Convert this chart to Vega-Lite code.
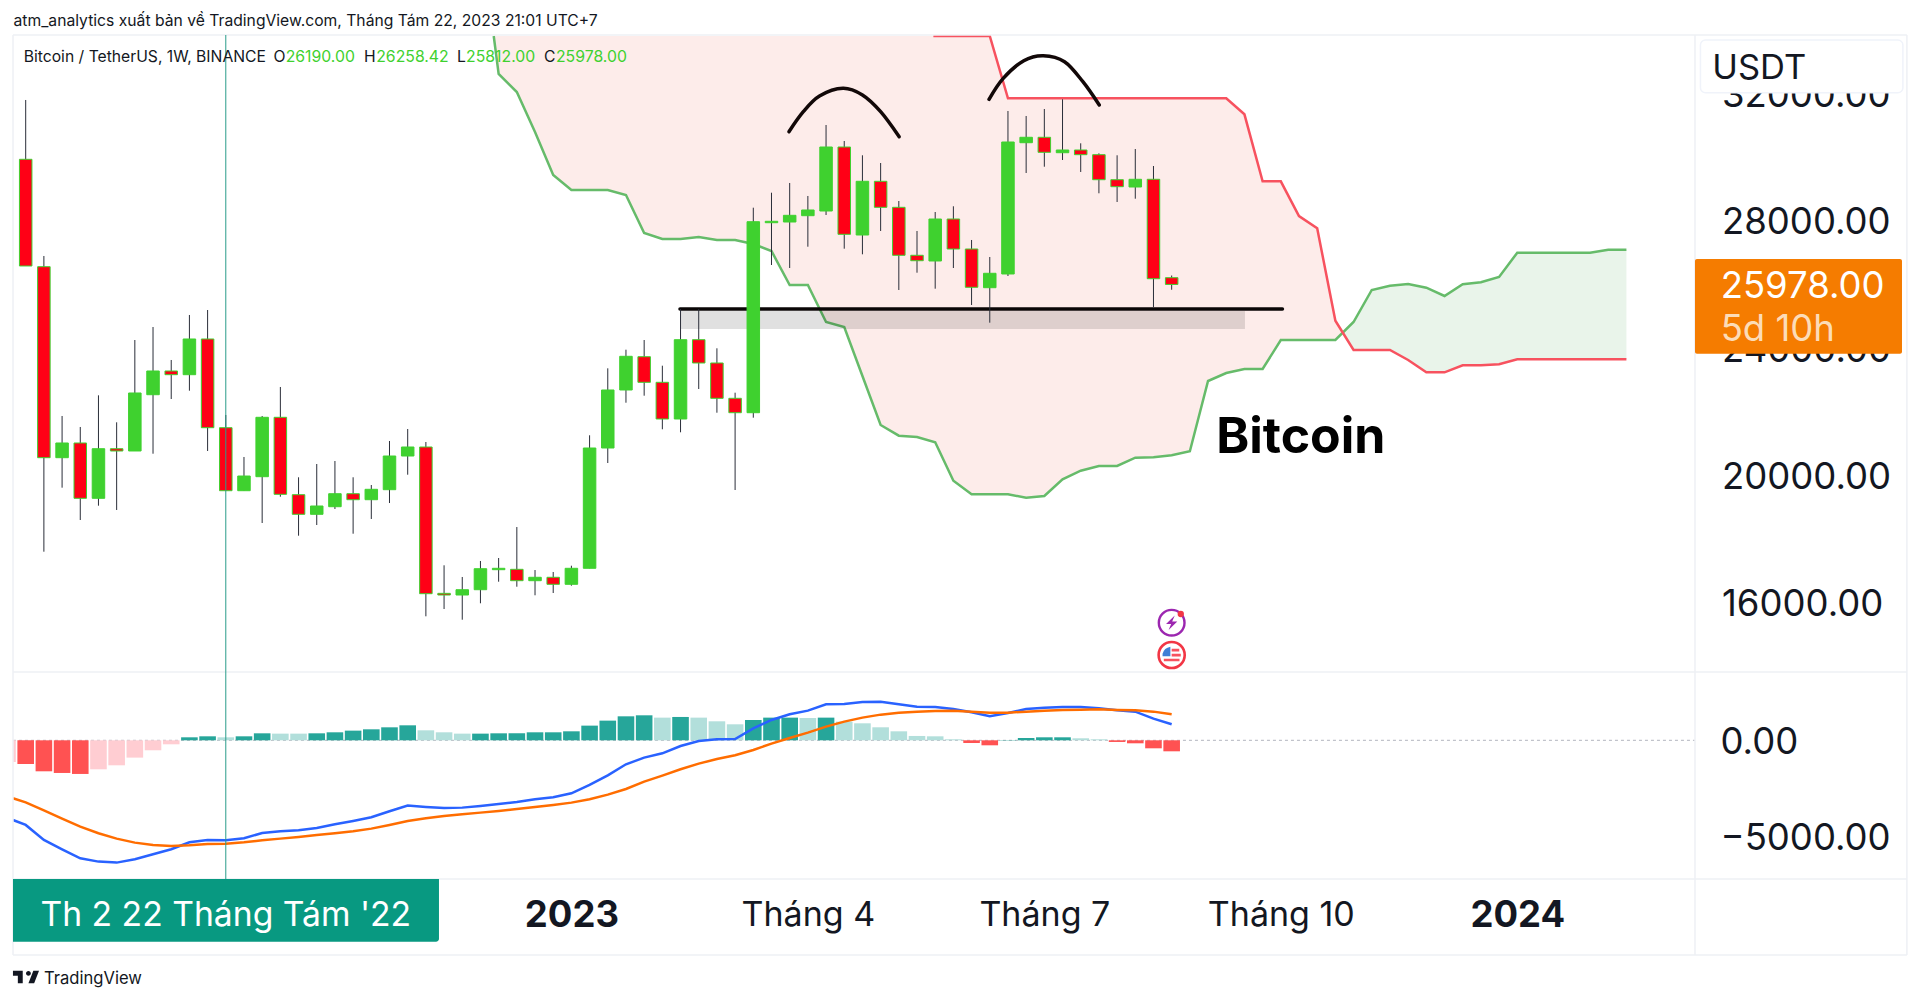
{"$schema":"https://vega.github.io/schema/vega-lite/v6.json","width":1920,"height":1001,"autosize":"none","padding":0,"background":"#ffffff","config":{"view":{"stroke":null},"text":{"font":"Inter"},"axis":{"labelFont":"Inter","grid":false,"ticks":false,"domain":false,"title":null}},
"datasets":{
"candles":[
{"w":0,"date":"2022-06-06","o":29904,"h":31765,"l":26557,"c":26557},
{"w":1,"date":"2022-06-13","o":26535,"h":26871,"l":17594,"c":20543},
{"w":2,"date":"2022-06-20","o":20543,"h":21851,"l":19602,"c":21004},
{"w":3,"date":"2022-06-27","o":21004,"h":21506,"l":18588,"c":19269},
{"w":4,"date":"2022-07-04","o":19269,"h":22500,"l":19037,"c":20825},
{"w":5,"date":"2022-07-11","o":20825,"h":21653,"l":18902,"c":20753},
{"w":6,"date":"2022-07-18","o":20753,"h":24235,"l":20753,"c":22573},
{"w":7,"date":"2022-07-25","o":22519,"h":24643,"l":20668,"c":23263},
{"w":8,"date":"2022-08-01","o":23263,"h":23608,"l":22384,"c":23147},
{"w":9,"date":"2022-08-08","o":23147,"h":25020,"l":22645,"c":24267},
{"w":10,"date":"2022-08-15","o":24267,"h":25176,"l":20753,"c":21484},
{"w":11,"date":"2022-08-22","o":21484,"h":21882,"l":19507,"c":19507},
{"w":12,"date":"2022-08-29","o":19507,"h":20565,"l":19507,"c":19968},
{"w":13,"date":"2022-09-05","o":19947,"h":21851,"l":18494,"c":21810},
{"w":14,"date":"2022-09-12","o":21810,"h":22761,"l":19319,"c":19394},
{"w":15,"date":"2022-09-19","o":19382,"h":19928,"l":18096,"c":18767},
{"w":16,"date":"2022-09-26","o":18767,"h":20345,"l":18431,"c":19027},
{"w":17,"date":"2022-10-03","o":19005,"h":20439,"l":18933,"c":19413},
{"w":18,"date":"2022-10-10","o":19413,"h":19928,"l":18158,"c":19225},
{"w":19,"date":"2022-10-17","o":19225,"h":19686,"l":18620,"c":19551},
{"w":20,"date":"2022-10-24","o":19539,"h":21067,"l":19121,"c":20596},
{"w":21,"date":"2022-10-31","o":20596,"h":21443,"l":20009,"c":20878},
{"w":22,"date":"2022-11-07","o":20878,"h":21035,"l":15567,"c":16276},
{"w":23,"date":"2022-11-14","o":16287,"h":17167,"l":15796,"c":16235},
{"w":24,"date":"2022-11-21","o":16235,"h":16800,"l":15460,"c":16401},
{"w":25,"date":"2022-11-28","o":16401,"h":17302,"l":15975,"c":17060},
{"w":26,"date":"2022-12-05","o":17029,"h":17396,"l":16652,"c":17073},
{"w":27,"date":"2022-12-12","o":17041,"h":18368,"l":16495,"c":16684},
{"w":28,"date":"2022-12-19","o":16684,"h":17019,"l":16226,"c":16791},
{"w":29,"date":"2022-12-26","o":16791,"h":16957,"l":16298,"c":16571},
{"w":30,"date":"2023-01-02","o":16571,"h":17154,"l":16527,"c":17073},
{"w":31,"date":"2023-01-09","o":17073,"h":21246,"l":17073,"c":20847},
{"w":32,"date":"2023-01-16","o":20847,"h":23347,"l":20376,"c":22667},
{"w":33,"date":"2023-01-23","o":22667,"h":23931,"l":22268,"c":23724},
{"w":34,"date":"2023-01-30","o":23711,"h":24235,"l":22488,"c":22908},
{"w":35,"date":"2023-02-06","o":22908,"h":23429,"l":21434,"c":21757},
{"w":36,"date":"2023-02-13","o":21757,"h":25208,"l":21340,"c":24245},
{"w":37,"date":"2023-02-20","o":24245,"h":25208,"l":22698,"c":23514},
{"w":38,"date":"2023-02-27","o":23514,"h":23975,"l":21954,"c":22406},
{"w":39,"date":"2023-03-06","o":22406,"h":22582,"l":19529,"c":21954},
{"w":40,"date":"2023-03-13","o":21954,"h":28386,"l":21798,"c":27947},
{"w":41,"date":"2023-03-20","o":27915,"h":28856,"l":26588,"c":27959},
{"w":42,"date":"2023-03-27","o":27937,"h":29161,"l":26494,"c":28147},
{"w":43,"date":"2023-04-03","o":28135,"h":28753,"l":27162,"c":28314},
{"w":44,"date":"2023-04-10","o":28282,"h":30980,"l":28157,"c":30290},
{"w":45,"date":"2023-04-17","o":30290,"h":30478,"l":27100,"c":27551},
{"w":46,"date":"2023-04-24","o":27529,"h":30030,"l":26924,"c":29214},
{"w":47,"date":"2023-05-01","o":29214,"h":29788,"l":27655,"c":28398},
{"w":48,"date":"2023-05-08","o":28398,"h":28596,"l":25804,"c":26893},
{"w":49,"date":"2023-05-15","o":26893,"h":27655,"l":26347,"c":26723},
{"w":50,"date":"2023-05-22","o":26714,"h":28251,"l":25845,"c":28031},
{"w":51,"date":"2023-05-29","o":28031,"h":28430,"l":26494,"c":27090},
{"w":52,"date":"2023-06-05","o":27090,"h":27373,"l":25333,"c":25889},
{"w":53,"date":"2023-06-12","o":25876,"h":26839,"l":24778,"c":26328},
{"w":54,"date":"2023-06-19","o":26306,"h":31420,"l":26243,"c":30447},
{"w":55,"date":"2023-06-26","o":30425,"h":31263,"l":29475,"c":30595},
{"w":56,"date":"2023-07-03","o":30595,"h":31482,"l":29672,"c":30124},
{"w":57,"date":"2023-07-10","o":30111,"h":31787,"l":29882,"c":30196},
{"w":58,"date":"2023-07-17","o":30196,"h":30406,"l":29506,"c":30049},
{"w":59,"date":"2023-07-24","o":30049,"h":30092,"l":28838,"c":29264},
{"w":60,"date":"2023-07-31","o":29264,"h":30030,"l":28565,"c":29045},
{"w":61,"date":"2023-08-07","o":29035,"h":30227,"l":28668,"c":29277},
{"w":62,"date":"2023-08-14","o":29277,"h":29694,"l":25261,"c":26158},
{"w":63,"date":"2023-08-21","o":26190,"h":26258,"l":25812,"c":25978}],
"senkouA":[{"w":25.73,"p":33773},{"w":26,"p":32580},{"w":27,"p":32016},{"w":28,"p":30761},{"w":29,"p":29412},{"w":30,"p":28941},{"w":31,"p":28941},{"w":32,"p":28941},{"w":33,"p":28784},{"w":34,"p":27592},{"w":35,"p":27404},{"w":36,"p":27404},{"w":37,"p":27467},{"w":38,"p":27373},{"w":39,"p":27373},{"w":40,"p":27247},{"w":41,"p":27027},{"w":42,"p":25961},{"w":43,"p":25961},{"w":44,"p":24800},{"w":45,"p":24643},{"w":46,"p":23106},{"w":47,"p":21569},{"w":48,"p":21233},{"w":49,"p":21192},{"w":50,"p":21026},{"w":51,"p":19821},{"w":52,"p":19394},{"w":53,"p":19394},{"w":54,"p":19394},{"w":55,"p":19288},{"w":56,"p":19341},{"w":57,"p":19865},{"w":58,"p":20135},{"w":59,"p":20282},{"w":60,"p":20282},{"w":61,"p":20543},{"w":62,"p":20555},{"w":63,"p":20618},{"w":64,"p":20743},{"w":65,"p":22949},{"w":66,"p":23200},{"w":67,"p":23325},{"w":68,"p":23325},{"w":69,"p":24235},{"w":70,"p":24235},{"w":71,"p":24235},{"w":72,"p":24235},{"w":73,"p":24800},{"w":74,"p":25804},{"w":75,"p":25939},{"w":76,"p":25992},{"w":77,"p":25876},{"w":78,"p":25616},{"w":79,"p":25983},{"w":80,"p":26045},{"w":81,"p":26212},{"w":82,"p":26974},{"w":83,"p":26974},{"w":84,"p":26974},{"w":85,"p":26974},{"w":86,"p":26974},{"w":87,"p":27068},{"w":88,"p":27068}],
"senkouB":[{"w":49.9,"p":33773},{"w":53,"p":33773},{"w":54,"p":31818},{"w":55,"p":31818},{"w":56,"p":31818},{"w":57,"p":31818},{"w":58,"p":31818},{"w":59,"p":31818},{"w":60,"p":31818},{"w":61,"p":31818},{"w":62,"p":31818},{"w":63,"p":31818},{"w":64,"p":31818},{"w":65,"p":31818},{"w":66,"p":31818},{"w":67,"p":31316},{"w":68,"p":29214},{"w":69,"p":29214},{"w":70,"p":28125},{"w":71,"p":27740},{"w":72,"p":24841},{"w":73,"p":23922},{"w":74,"p":23922},{"w":75,"p":23922},{"w":76,"p":23608},{"w":77,"p":23222},{"w":78,"p":23222},{"w":79,"p":23442},{"w":80,"p":23442},{"w":81,"p":23473},{"w":82,"p":23630},{"w":83,"p":23630},{"w":84,"p":23630},{"w":85,"p":23630},{"w":86,"p":23630},{"w":87,"p":23630},{"w":88,"p":23630}],
"bearCloud":[{"w":25.73,"p":33773,"p2":33773},{"w":26,"p":32580,"p2":33773},{"w":27,"p":32016,"p2":33773},{"w":28,"p":30761,"p2":33773},{"w":29,"p":29412,"p2":33773},{"w":30,"p":28941,"p2":33773},{"w":31,"p":28941,"p2":33773},{"w":32,"p":28941,"p2":33773},{"w":33,"p":28784,"p2":33773},{"w":34,"p":27592,"p2":33773},{"w":35,"p":27404,"p2":33773},{"w":36,"p":27404,"p2":33773},{"w":37,"p":27467,"p2":33773},{"w":38,"p":27373,"p2":33773},{"w":39,"p":27373,"p2":33773},{"w":40,"p":27247,"p2":33773},{"w":41,"p":27027,"p2":33773},{"w":42,"p":25961,"p2":33773},{"w":43,"p":25961,"p2":33773},{"w":44,"p":24800,"p2":33773},{"w":45,"p":24643,"p2":33773},{"w":46,"p":23106,"p2":33773},{"w":47,"p":21569,"p2":33773},{"w":48,"p":21233,"p2":33773},{"w":49,"p":21192,"p2":33773},{"w":50,"p":21026,"p2":33773},{"w":51,"p":19821,"p2":33773},{"w":52,"p":19394,"p2":33773},{"w":53,"p":19394,"p2":33773},{"w":54,"p":19394,"p2":31818},{"w":55,"p":19288,"p2":31818},{"w":56,"p":19341,"p2":31818},{"w":57,"p":19865,"p2":31818},{"w":58,"p":20135,"p2":31818},{"w":59,"p":20282,"p2":31818},{"w":60,"p":20282,"p2":31818},{"w":61,"p":20543,"p2":31818},{"w":62,"p":20555,"p2":31818},{"w":63,"p":20618,"p2":31818},{"w":64,"p":20743,"p2":31818},{"w":65,"p":22949,"p2":31818},{"w":66,"p":23200,"p2":31818},{"w":67,"p":23325,"p2":31316},{"w":68,"p":23325,"p2":29214},{"w":69,"p":24235,"p2":29214},{"w":70,"p":24235,"p2":28125},{"w":71,"p":24235,"p2":27740},{"w":72,"p":24235,"p2":24841},{"w":72.4,"p":24464,"p2":24464}],
"bullCloud":[{"w":72.4,"p":24464,"p2":24464},{"w":73,"p":23922,"p2":24800},{"w":74,"p":23922,"p2":25804},{"w":75,"p":23922,"p2":25939},{"w":76,"p":23608,"p2":25992},{"w":77,"p":23222,"p2":25876},{"w":78,"p":23222,"p2":25616},{"w":79,"p":23442,"p2":25983},{"w":80,"p":23442,"p2":26045},{"w":81,"p":23473,"p2":26212},{"w":82,"p":23630,"p2":26974},{"w":83,"p":23630,"p2":26974},{"w":84,"p":23630,"p2":26974},{"w":85,"p":23630,"p2":26974},{"w":86,"p":23630,"p2":26974},{"w":87,"p":23630,"p2":27068},{"w":88,"p":23630,"p2":27068}],
"arcs":[{"arc":"a","w":41.96,"p":30770},{"arc":"a","w":42.75,"p":31398},{"arc":"a","w":43.64,"p":31890},{"arc":"a","w":44.93,"p":32132},{"arc":"a","w":46.0,"p":31922},{"arc":"a","w":47.0,"p":31398},{"arc":"a","w":48.02,"p":30613},{"arc":"b","w":52.96,"p":31787},{"arc":"b","w":53.74,"p":32445},{"arc":"b","w":54.87,"p":32998},{"arc":"b","w":55.94,"p":33154},{"arc":"b","w":57.11,"p":32966},{"arc":"b","w":58.12,"p":32339},{"arc":"b","w":59.02,"p":31608}],
"hist":[{"w":-1,"v":-1134,"state":"fallFade"},{"w":0,"v":-1239,"state":"fall"},{"w":1,"v":-1623,"state":"fall"},{"w":2,"v":-1710,"state":"fall"},{"w":3,"v":-1762,"state":"fall"},{"w":4,"v":-1518,"state":"fallFade"},{"w":5,"v":-1309,"state":"fallFade"},{"w":6,"v":-907,"state":"fallFade"},{"w":7,"v":-523,"state":"fallFade"},{"w":8,"v":-209,"state":"fallFade"},{"w":9,"v":157,"state":"rise"},{"w":10,"v":209,"state":"rise"},{"w":11,"v":157,"state":"riseFade"},{"w":12,"v":209,"state":"rise"},{"w":13,"v":366,"state":"rise"},{"w":14,"v":349,"state":"riseFade"},{"w":15,"v":349,"state":"riseFade"},{"w":16,"v":366,"state":"rise"},{"w":17,"v":419,"state":"rise"},{"w":18,"v":506,"state":"rise"},{"w":19,"v":576,"state":"rise"},{"w":20,"v":680,"state":"rise"},{"w":21,"v":785,"state":"rise"},{"w":22,"v":523,"state":"riseFade"},{"w":23,"v":419,"state":"riseFade"},{"w":24,"v":349,"state":"riseFade"},{"w":25,"v":349,"state":"rise"},{"w":26,"v":366,"state":"rise"},{"w":27,"v":366,"state":"rise"},{"w":28,"v":419,"state":"rise"},{"w":29,"v":419,"state":"rise"},{"w":30,"v":471,"state":"rise"},{"w":31,"v":768,"state":"rise"},{"w":32,"v":1030,"state":"rise"},{"w":33,"v":1256,"state":"rise"},{"w":34,"v":1309,"state":"rise"},{"w":35,"v":1187,"state":"riseFade"},{"w":36,"v":1222,"state":"rise"},{"w":37,"v":1187,"state":"riseFade"},{"w":38,"v":995,"state":"riseFade"},{"w":39,"v":838,"state":"riseFade"},{"w":40,"v":1064,"state":"rise"},{"w":41,"v":1187,"state":"rise"},{"w":42,"v":1187,"state":"rise"},{"w":43,"v":1169,"state":"riseFade"},{"w":44,"v":1187,"state":"rise"},{"w":45,"v":977,"state":"riseFade"},{"w":46,"v":890,"state":"riseFade"},{"w":47,"v":681,"state":"riseFade"},{"w":48,"v":471,"state":"riseFade"},{"w":49,"v":227,"state":"riseFade"},{"w":50,"v":209,"state":"riseFade"},{"w":51,"v":52,"state":"riseFade"},{"w":52,"v":-140,"state":"fall"},{"w":53,"v":-262,"state":"fall"},{"w":54,"v":17,"state":"rise"},{"w":55,"v":122,"state":"rise"},{"w":56,"v":157,"state":"rise"},{"w":57,"v":157,"state":"rise"},{"w":58,"v":105,"state":"riseFade"},{"w":59,"v":52,"state":"riseFade"},{"w":60,"v":-87,"state":"fall"},{"w":61,"v":-157,"state":"fall"},{"w":62,"v":-419,"state":"fall"},{"w":63,"v":-576,"state":"fall"}],
"macd":[{"w":-0.7,"v":-4171},{"w":0,"v":-4432},{"w":1,"v":-5218},{"w":2,"v":-5706},{"w":3,"v":-6177},{"w":4,"v":-6352},{"w":5,"v":-6404},{"w":6,"v":-6230},{"w":7,"v":-5968},{"w":8,"v":-5706},{"w":9,"v":-5340},{"w":10,"v":-5218},{"w":11,"v":-5235},{"w":12,"v":-5130},{"w":13,"v":-4851},{"w":14,"v":-4764},{"w":15,"v":-4712},{"w":16,"v":-4589},{"w":17,"v":-4397},{"w":18,"v":-4223},{"w":19,"v":-4031},{"w":20,"v":-3717},{"w":21,"v":-3420},{"w":22,"v":-3490},{"w":23,"v":-3542},{"w":24,"v":-3525},{"w":25,"v":-3438},{"w":26,"v":-3333},{"w":27,"v":-3228},{"w":28,"v":-3089},{"w":29,"v":-2984},{"w":30,"v":-2775},{"w":31,"v":-2338},{"w":32,"v":-1832},{"w":33,"v":-1256},{"w":34,"v":-907},{"w":35,"v":-681},{"w":36,"v":-297},{"w":37,"v":-35},{"w":38,"v":52},{"w":39,"v":70},{"w":40,"v":628},{"w":41,"v":1064},{"w":42,"v":1361},{"w":43,"v":1553},{"w":44,"v":1885},{"w":45,"v":1902},{"w":46,"v":2007},{"w":47,"v":2024},{"w":48,"v":1885},{"w":49,"v":1762},{"w":50,"v":1745},{"w":51,"v":1640},{"w":52,"v":1466},{"w":53,"v":1256},{"w":54,"v":1431},{"w":55,"v":1640},{"w":56,"v":1710},{"w":57,"v":1745},{"w":58,"v":1745},{"w":59,"v":1675},{"w":60,"v":1570},{"w":61,"v":1501},{"w":62,"v":1134},{"w":63,"v":838}],
"signal":[{"w":-0.7,"v":-3036},{"w":0,"v":-3246},{"w":1,"v":-3665},{"w":2,"v":-4101},{"w":3,"v":-4520},{"w":4,"v":-4869},{"w":5,"v":-5148},{"w":6,"v":-5357},{"w":7,"v":-5479},{"w":8,"v":-5532},{"w":9,"v":-5497},{"w":10,"v":-5427},{"w":11,"v":-5410},{"w":12,"v":-5340},{"w":13,"v":-5235},{"w":14,"v":-5148},{"w":15,"v":-5061},{"w":16,"v":-4956},{"w":17,"v":-4869},{"w":18,"v":-4764},{"w":19,"v":-4624},{"w":20,"v":-4432},{"w":21,"v":-4223},{"w":22,"v":-4083},{"w":23,"v":-3961},{"w":24,"v":-3874},{"w":25,"v":-3787},{"w":26,"v":-3699},{"w":27,"v":-3595},{"w":28,"v":-3490},{"w":29,"v":-3385},{"w":30,"v":-3263},{"w":31,"v":-3089},{"w":32,"v":-2844},{"w":33,"v":-2548},{"w":34,"v":-2164},{"w":35,"v":-1850},{"w":36,"v":-1518},{"w":37,"v":-1222},{"w":38,"v":-977},{"w":39,"v":-785},{"w":40,"v":-506},{"w":41,"v":-175},{"w":42,"v":122},{"w":43,"v":401},{"w":44,"v":715},{"w":45,"v":977},{"w":46,"v":1187},{"w":47,"v":1344},{"w":48,"v":1448},{"w":49,"v":1501},{"w":50,"v":1536},{"w":51,"v":1553},{"w":52,"v":1501},{"w":53,"v":1448},{"w":54,"v":1448},{"w":55,"v":1501},{"w":56,"v":1553},{"w":57,"v":1588},{"w":58,"v":1605},{"w":59,"v":1623},{"w":60,"v":1588},{"w":61,"v":1570},{"w":62,"v":1501},{"w":63,"v":1361}]
},
"encoding":{"x":{"field":"w","type":"quantitative","scale":{"domain":[-1.4129,104.14],"nice":false,"zero":false,"padding":0},"axis":{"title":null,"orient":"bottom","offset":-123,"values":[30,43,56,69,82],"labelExpr":"datum.value==30?'2023':datum.value==43?'Tháng 4':datum.value==56?'Tháng 7':datum.value==69?'Tháng 10':'2024'","labelFontSize":{"condition":{"test":"datum.value==30||datum.value==82","value":36.5},"value":34},"labelColor":"#131722","labelPadding":37.5,"labelBaseline":"middle","labelFontWeight":{"condition":{"test":"datum.value==30||datum.value==82","value":"bold"},"value":"normal"},"labelOverlap":false,"labelFlush":false}}},
"layer":[
{"layer":[
{"data":{"name":"bearCloud"},"mark":{"type":"area","color":"#fdecea"},"encoding":{"y":{"field":"p","type":"quantitative","scale":{"domain":[3498,34902],"nice":false,"zero":false},"axis":{"title":null,"orient":"right","offset":-198.5,"values":[16000,20000,24000,28000,32000],"format":".2f","labelFontSize":36.5,"labelColor":"#131722","labelPadding":0,"labelOffset":2.5,"labelAlign":"left","labelBaseline":"middle","labelOverlap":false,"labelFlush":false}},"y2":{"field":"p2"}}},
{"data":{"name":"bullCloud"},"mark":{"type":"area","color":"#e9f4ea"},"encoding":{"y":{"field":"p","type":"quantitative"},"y2":{"field":"p2"}}},
{"data":{"name":"senkouA"},"mark":{"type":"line","color":"#66bb6a","strokeWidth":2.5},"encoding":{"y":{"field":"p","type":"quantitative"}}},
{"data":{"name":"senkouB"},"mark":{"type":"line","color":"#f7525f","strokeWidth":2.5},"encoding":{"y":{"field":"p","type":"quantitative"}}},
{"data":{"values":[{"w":36,"w2":67.03,"p":25145,"p2":24580}]},"mark":{"type":"rect","color":"#000000","opacity":0.12},"encoding":{"x2":{"field":"w2"},"y":{"field":"p","type":"quantitative"},"y2":{"field":"p2"}}},
{"data":{"values":[{"w":35.97,"w2":69.09,"p":25208}]},"mark":{"type":"rule","color":"#0a0606","strokeWidth":3.5,"strokeCap":"round"},"encoding":{"x2":{"field":"w2"},"y":{"field":"p","type":"quantitative"}}},
{"data":{"name":"arcs"},"mark":{"type":"line","color":"#120808","strokeWidth":3.5,"strokeCap":"round","interpolate":"cardinal"},"encoding":{"detail":{"field":"arc"},"y":{"field":"p","type":"quantitative"}}},
{"data":{"name":"candles"},"mark":{"type":"rule","color":"#2a2e39","strokeWidth":1},"encoding":{"y":{"field":"l","type":"quantitative"},"y2":{"field":"h"}}},
{"data":{"name":"candles"},"mark":{"type":"bar","orient":"vertical","size":12.5,"stroke":"#3fd12f","strokeWidth":1},"encoding":{"y":{"field":"o","type":"quantitative"},"y2":{"field":"c"},"color":{"condition":{"test":"datum.c<datum.o","value":"#ff0016"},"value":"#3fd12f"}}}
]},
{"layer":[
{"data":{"values":[{"w":-0.7,"w2":91.77,"v":0}]},"mark":{"type":"rule","color":"#b2b5be","strokeWidth":1,"strokeDash":[3,3]},"encoding":{"x2":{"field":"w2"},"y":{"field":"v","type":"quantitative","scale":{"domain":[-13650,38762],"nice":false,"zero":false},"axis":{"title":null,"orient":"right","offset":-200,"values":[0,-5000],"format":".2f","labelFontSize":36.5,"labelColor":"#131722","labelPadding":0,"labelOffset":2.5,"labelAlign":"left","labelBaseline":"middle","labelOverlap":false,"labelFlush":false}}}},
{"data":{"name":"hist"},"mark":{"type":"bar","orient":"vertical","size":16.6},"encoding":{"y":{"field":"v","type":"quantitative"},"y2":{"datum":0},"color":{"field":"state","type":"nominal","legend":null,"scale":{"domain":["rise","riseFade","fall","fallFade"],"range":["#26a69a","#b2dfdb","#ff5252","#ffcdd2"]}}}},
{"data":{"name":"macd"},"mark":{"type":"line","color":"#2962ff","strokeWidth":2.5},"encoding":{"y":{"field":"v","type":"quantitative"}}},
{"data":{"name":"signal"},"mark":{"type":"line","color":"#ff6d00","strokeWidth":2.5},"encoding":{"y":{"field":"v","type":"quantitative"}}}
]},
{"layer":[
{"data":{"values":[{"w":-1.4129,"w2":-0.698,"p":34902,"p2":3498},{"w":-1.4129,"w2":103.42,"p":33804,"p2":34902}]},"mark":{"type":"rect","color":"#ffffff"},"encoding":{"x2":{"field":"w2"},"y":{"field":"p","type":"quantitative","scale":{"domain":[3498,34902],"nice":false,"zero":false},"axis":null},"y2":{"field":"p2"}}},
{"data":{"values":[{"w":-0.698,"w2":103.42,"p":33804,"p2":33804},{"w":-0.698,"w2":103.42,"p":13819,"p2":13819},{"w":-0.698,"w2":103.42,"p":7325,"p2":7325},{"w":-0.698,"w2":103.42,"p":4941,"p2":4941},{"w":-0.698,"w2":-0.698,"p":33804,"p2":4941},{"w":91.77,"w2":91.77,"p":33804,"p2":4941},{"w":103.42,"w2":103.42,"p":33804,"p2":4941}]},"mark":{"type":"rule","color":"#eef0f5","strokeWidth":1.5},"encoding":{"x2":{"field":"w2"},"y":{"field":"p","type":"quantitative","axis":null},"y2":{"field":"p2"}}},
{"data":{"values":[{"w":11,"p":33804,"p2":7325}]},"mark":{"type":"rule","color":"#2a9d8a","strokeWidth":1},"encoding":{"y":{"field":"p","type":"quantitative","axis":null},"y2":{"field":"p2"}}},
{"data":{"values":[{"w":-0.698,"w2":22.72,"p":7325,"p2":5358}]},"mark":{"type":"rect","color":"#089981","cornerRadiusBottomRight":3},"encoding":{"x2":{"field":"w2"},"y":{"field":"p","type":"quantitative","axis":null},"y2":{"field":"p2"}}},
{"data":{"values":[{"w":92.07,"w2":103.2,"p":33647,"p2":31994}]},"mark":{"type":"rect","color":"#ffffff","stroke":"#f0f3fa","strokeWidth":1.5,"cornerRadius":5},"encoding":{"x2":{"field":"w2"},"y":{"field":"p","type":"quantitative","axis":null},"y2":{"field":"p2"}}},
{"data":{"values":[{"w":91.77,"w2":103.15,"p":26776,"p2":23806}]},"mark":{"type":"rect","color":"#f57c00","cornerRadius":2},"encoding":{"x2":{"field":"w2"},"y":{"field":"p","type":"quantitative","axis":null},"y2":{"field":"p2"}}},
{"data":{"values":[{"w":-0.67,"p":34253,"label":"atm_analytics xuất bản về TradingView.com, Tháng Tám 22, 2023 21:01 UTC+7"},{"w":-0.11,"p":33123,"label":"Bitcoin / TetherUS, 1W, BINANCE"},{"w":13.62,"p":33123,"label":"O"},{"w":18.6,"p":33123,"label":"H"},{"w":23.71,"p":33123,"label":"L"},{"w":28.49,"p":33123,"label":"C"}]},"mark":{"type":"text","align":"left","baseline":"middle","fontSize":15.7,"color":"#131722"},"encoding":{"y":{"field":"p","type":"quantitative","axis":null},"text":{"field":"label"}}},
{"data":{"values":[{"w":14.29,"p":33123,"label":"26190.00"},{"w":19.27,"p":33123,"label":"26258.42"},{"w":24.21,"p":33123,"label":"25812.00"},{"w":29.15,"p":33123,"label":"25978.00"}]},"mark":{"type":"text","align":"left","baseline":"middle","fontSize":15.8,"color":"#3fd12f"},"encoding":{"y":{"field":"p","type":"quantitative","axis":null},"text":{"field":"label"}}},
{"data":{"values":[{"w":65.45,"p":20699,"label":"Bitcoin"}]},"mark":{"type":"text","align":"left","baseline":"alphabetic","fontSize":50,"fontWeight":"bold","color":"#000000"},"encoding":{"y":{"field":"p","type":"quantitative","axis":null},"text":{"field":"label"}}},
{"data":{"values":[{"w":92.72,"p":32734,"label":"USDT"}]},"mark":{"type":"text","align":"left","baseline":"middle","fontSize":34.5,"color":"#131722"},"encoding":{"y":{"field":"p","type":"quantitative","axis":null},"text":{"field":"label"}}},
{"data":{"values":[{"w":93.18,"p":25883,"label":"25978.00"}]},"mark":{"type":"text","align":"left","baseline":"middle","fontSize":36.5,"color":"#ffffff"},"encoding":{"y":{"field":"p","type":"quantitative","axis":null},"text":{"field":"label"}}},
{"data":{"values":[{"w":93.18,"p":24534,"label":"5d 10h"}]},"mark":{"type":"text","align":"left","baseline":"middle","fontSize":36.5,"color":"#fcdcb8"},"encoding":{"y":{"field":"p","type":"quantitative","axis":null},"text":{"field":"label"}}},
{"data":{"values":[{"w":11,"p":6180,"label":"Th 2 22 Tháng Tám '22"}]},"mark":{"type":"text","align":"center","baseline":"middle","fontSize":33.7,"color":"#ffffff"},"encoding":{"y":{"field":"p","type":"quantitative","axis":null},"text":{"field":"label"}}},
{"data":{"values":[{"w":1.006,"p":4188,"label":"TradingView"}]},"mark":{"type":"text","align":"left","baseline":"middle","fontSize":16.6,"color":"#131722"},"encoding":{"y":{"field":"p","type":"quantitative","axis":null},"text":{"field":"label"}}},
{"data":{"values":[{"w":0.016,"p":4251}]},"mark":{"type":"point","filled":true,"opacity":1,"color":"#131722","size":680,"shape":"M-0.25 -0.47 H-1 V-0.09 H-0.625 V0.47 H-0.25 Z M0.625 0.47 H0.1875 L0.5625 -0.47 H1 Z M0.1875 -0.0925 a0.1875 0.1875 0 1 0 0 -0.375 a0.1875 0.1875 0 0 0 0 0.375 Z"},"encoding":{"y":{"field":"p","type":"quantitative","axis":null}}},
{"data":{"values":[{"w":63,"p":15366}]},"mark":{"type":"point","filled":false,"opacity":1,"color":"#9c27b0","strokeWidth":2.4,"size":660,"shape":"circle"},"encoding":{"y":{"field":"p","type":"quantitative","axis":null}}},
{"data":{"values":[{"w":63,"p":15366}]},"mark":{"type":"point","filled":true,"opacity":1,"color":"#9c27b0","size":420,"shape":"M0.3 -0.7 L-0.55 0.12 H-0.05 L-0.3 0.7 L0.55 -0.12 H0.05 Z"},"encoding":{"y":{"field":"p","type":"quantitative","axis":null}}},
{"data":{"values":[{"w":63.5,"p":15639}]},"mark":{"type":"point","filled":true,"opacity":1,"color":"#f23645","size":40,"shape":"circle"},"encoding":{"y":{"field":"p","type":"quantitative","axis":null}}},
{"data":{"values":[{"w":63,"p":14353}]},"mark":{"type":"point","filled":false,"opacity":1,"color":"#f23645","strokeWidth":2.6,"size":680,"shape":"circle"},"encoding":{"y":{"field":"p","type":"quantitative","axis":null}}},
{"data":{"values":[{"w":63,"p":14353}]},"mark":{"type":"point","filled":true,"opacity":1,"color":"#f7525f","size":640,"shape":"M0 -0.5 H0.6 V-0.28 H0 Z M0 -0.1 H0.72 V0.12 H0 Z M-0.62 0.3 H0.62 V0.5 H-0.62 Z"},"encoding":{"y":{"field":"p","type":"quantitative","axis":null}}},
{"data":{"values":[{"w":63,"p":14353}]},"mark":{"type":"point","filled":true,"opacity":1,"color":"#3f7fd6","size":640,"shape":"M-0.72 -0.1 Q-0.6 -0.55 -0.1 -0.65 V0.1 H-0.72 Z"},"encoding":{"y":{"field":"p","type":"quantitative","axis":null}}}
]}
],"resolve":{"scale":{"y":"independent"}}}
